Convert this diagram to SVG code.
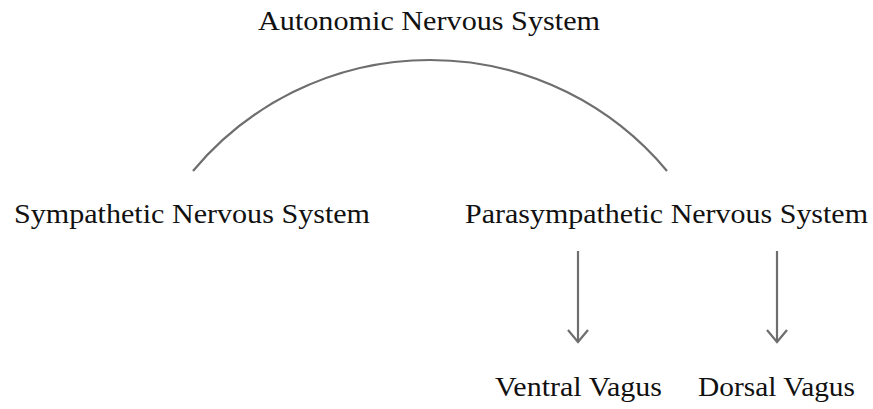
<svg xmlns="http://www.w3.org/2000/svg" width="873" height="409" viewBox="0 0 873 409">
<style>
text{font-family:"Liberation Serif","DejaVu Serif",serif;font-size:27px;fill:#111}
.c{fill:none;stroke:#6e6e6e;stroke-width:2.2}
</style>
<defs>
<marker id="ah" markerWidth="16" markerHeight="24" refX="13" refY="11" orient="auto" markerUnits="userSpaceOnUse" viewBox="0 0 16 24">
<path d="M1,1 L13,11 L1,21" fill="none" stroke="#6e6e6e" stroke-width="2.2"/>
</marker>
</defs>
<rect width="873" height="409" fill="#fff"/>
<g id="connectors">
<path class="c" d="M193,171 A308.5,308.5 0 0 1 667,171"/>
<path class="c" d="M578,251 L578,342" marker-end="url(#ah)"/>
<path class="c" d="M777,251 L777,342" marker-end="url(#ah)"/>
</g>
<g id="ans"><text x="258" y="30" textLength="342" lengthAdjust="spacingAndGlyphs">Autonomic Nervous System</text></g>
<g id="sns"><text x="14" y="223" textLength="356" lengthAdjust="spacingAndGlyphs">Sympathetic Nervous System</text></g>
<g id="pns"><text x="465" y="223" textLength="403" lengthAdjust="spacingAndGlyphs">Parasympathetic Nervous System</text></g>
<g id="ventral"><text x="495" y="396" textLength="167" lengthAdjust="spacingAndGlyphs">Ventral Vagus</text></g>
<g id="dorsal"><text x="698" y="396" textLength="157" lengthAdjust="spacingAndGlyphs">Dorsal Vagus</text></g>
</svg>
